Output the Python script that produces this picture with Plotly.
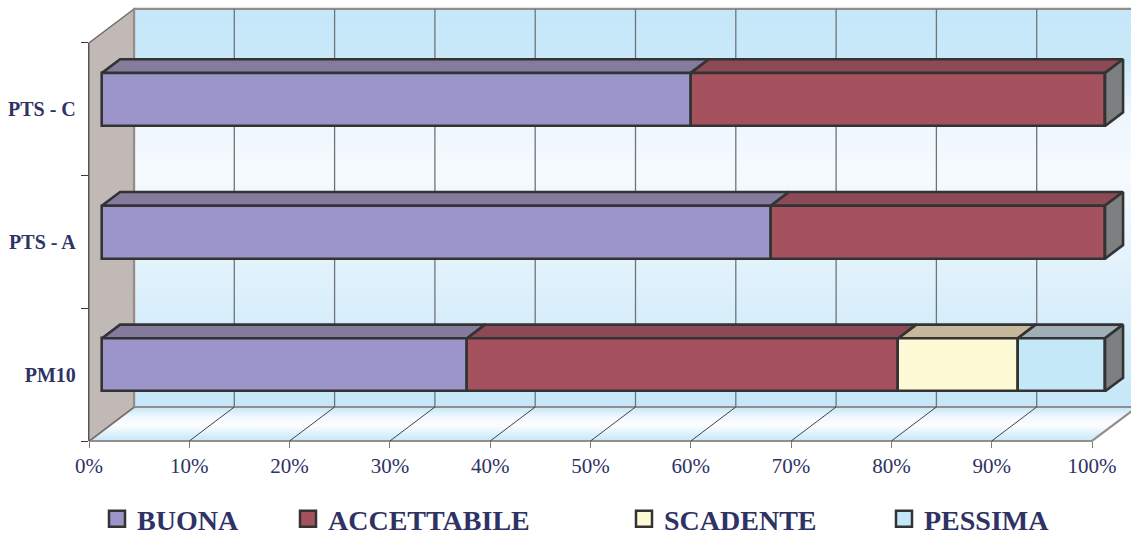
import plotly.graph_objects as go

# ---- data -------------------------------------------------------------
categories = ["PM10", "PTS - A", "PTS - C"]
series_names = ["BUONA", "ACCETTABILE", "SCADENTE", "PESSIMA"]
buona = [36.4, 66.7, 58.7]
accettabile = [43.0, 33.3, 41.3]
scadente = [11.9, 0.0, 0.0]
pessima = [8.7, 0.0, 0.0]
pct_ticks = list(range(0, 101, 10))
pct_labels = [f"{t}%" for t in pct_ticks]

series = [buona, accettabile, scadente, pessima]

# ---- styling ------------------------------------------------------------
front_colors = ["#9B95C9", "#A5525E", "#FFFAD6", "#C5E8F9"]
top_colors = ["#857B9D", "#8B4A55", "#C6B89D", "#A0AFB3"]
side_color = "#7D8080"
edge = "#333333"
navy = "#2E3264"
wall_edge = "#978C8A"
serif = "Liberation Serif"

# ---- pseudo-3D geometry (pixels -> data units) -------------------------
W, H = 1131, 537
X0 = 89.0      # pixel column of 0 %
SX = 10.03     # pixels per percent
Y0 = 441.0     # pixel row of the front floor edge
SY = 132.7     # pixels per category band
DX = 45 / SX   # depth offset along x
DY = 34 / SY   # depth offset along y
F0, F1 = 0.29, 0.69   # bar front / back depth fractions
HALF = 0.2            # half bar thickness (category units)


def px_to_x(p):
    return (p - X0) / SX


def px_to_y(p):
    return -0.5 + (Y0 - p) / SY


n_cat = len(categories)
y_lo, y_hi = -0.5, n_cat - 0.5
x_full = [px_to_x(0), px_to_x(W)]
y_full = [px_to_y(H), px_to_y(0)]

fig = go.Figure()

# tick subplot carrier (keeps the tick axes rendered)
fig.add_trace(go.Scatter(x=[None], y=[None], xaxis="x", yaxis="y",
                         showlegend=False, hoverinfo="skip"))

wall_scale = [[0.0, "#C5E7F9"], [0.3, "#DDF0FB"], [0.58, "#F5FAFE"],
              [0.74, "#EEF7FD"], [0.87, "#C9E9F9"], [1.0, "#C5E7F9"]]
floor_scale = [[0.0, "#C5E7F9"], [0.45, "#FAFDFF"], [0.7, "#F2F9FE"],
               [1.0, "#C2E5F8"]]

# back wall
bx = [DX, 100 + DX, 100 + DX, DX, DX]
by = [y_lo + DY, y_lo + DY, y_hi + DY, y_hi + DY, y_lo + DY]
fig.add_trace(go.Scatter(x=bx, y=by, fill="toself", mode="lines",
                         fillgradient=dict(type="vertical", colorscale=wall_scale),
                         line=dict(color=wall_edge, width=2.2),
                         xaxis="x2", yaxis="y2", showlegend=False, hoverinfo="skip"))

# floor
fx = [0, 100, 100 + DX, DX, 0]
fy = [y_lo, y_lo, y_lo + DY, y_lo + DY, y_lo]
fig.add_trace(go.Scatter(x=fx, y=fy, fill="toself", mode="lines",
                         fillgradient=dict(type="vertical", colorscale=floor_scale),
                         line=dict(color=wall_edge, width=2.2),
                         xaxis="x2", yaxis="y2", showlegend=False, hoverinfo="skip"))

# left side wall
lx = [0, DX, DX, 0, 0]
ly = [y_lo, y_lo + DY, y_hi + DY, y_hi, y_lo]
fig.add_trace(go.Scatter(x=lx, y=ly, fill="toself", mode="lines",
                         fillcolor="#C1B9B6", line=dict(color="#6E6664", width=1.2),
                         xaxis="x2", yaxis="y2", showlegend=False, hoverinfo="skip"))
fig.add_trace(go.Scatter(x=[DX, DX], y=[y_lo + DY, y_hi + DY], mode="lines",
                         line=dict(color=wall_edge, width=2.2),
                         xaxis="x2", yaxis="y2", showlegend=False, hoverinfo="skip"))

# gridlines on back wall and floor
gx, gy, dxs, dys = [], [], [], []
for t in pct_ticks[1:-1]:
    gx += [t + DX, t + DX, None]
    gy += [y_lo + DY, y_hi + DY, None]
    dxs += [t, t + DX, None]
    dys += [y_lo, y_lo + DY, None]
fig.add_trace(go.Scatter(x=gx, y=gy, mode="lines", line=dict(color="#6F7478", width=1.3),
                         xaxis="x2", yaxis="y2", showlegend=False, hoverinfo="skip"))
fig.add_trace(go.Scatter(x=dxs, y=dys, mode="lines", line=dict(color="#2F2F2F", width=0.9),
                         xaxis="x2", yaxis="y2", showlegend=False, hoverinfo="skip"))

# ---- bars: front faces -------------------------------------------------
cum = [0.0] * n_cat
starts = []
for vals in series:
    starts.append(list(cum))
    cum = [c + v for c, v in zip(cum, vals)]

for name, vals, st, fc in zip(series_names, series, starts, front_colors):
    ys = [i + F0 * DY for i, v in enumerate(vals) if v > 0]
    xs = [v for v in vals if v > 0]
    bases = [s + F0 * DX for s, v in zip(st, vals) if v > 0]
    fig.add_trace(go.Bar(orientation="h", y=ys, x=xs, base=bases, width=2 * HALF,
                         marker=dict(color=fc, line=dict(color=edge, width=2.6)),
                         name=name, showlegend=False, xaxis="x3", yaxis="y3",
                         hovertemplate=name + ": %{x:.1f}%<extra></extra>"))

# ---- bars: top faces ----------------------------------------------------
for vals, st, tc in zip(series, starts, top_colors):
    for i, (v, s) in enumerate(zip(vals, st)):
        if v <= 0:
            continue
        yt = i + HALF
        px_ = [s + F0 * DX, s + v + F0 * DX, s + v + F1 * DX, s + F1 * DX, s + F0 * DX]
        py_ = [yt + F0 * DY, yt + F0 * DY, yt + F1 * DY, yt + F1 * DY, yt + F0 * DY]
        fig.add_trace(go.Scatter(x=px_, y=py_, fill="toself", mode="lines",
                                 fillcolor=tc, line=dict(color=edge, width=2.6),
                                 xaxis="x3", yaxis="y3", showlegend=False, hoverinfo="skip"))

# ---- bars: right end faces -----------------------------------------------
for i, tot in enumerate(cum):
    sx_ = [tot + F0 * DX, tot + F1 * DX, tot + F1 * DX, tot + F0 * DX, tot + F0 * DX]
    sy_ = [i - HALF + F0 * DY, i - HALF + F1 * DY, i + HALF + F1 * DY,
           i + HALF + F0 * DY, i - HALF + F0 * DY]
    fig.add_trace(go.Scatter(x=sx_, y=sy_, fill="toself", mode="lines",
                             fillcolor=side_color, line=dict(color=edge, width=2.6),
                             xaxis="x3", yaxis="y3", showlegend=False, hoverinfo="skip"))

# ---- legend swatches (one legend box per entry) --------------------------
legend_x = [97, 288, 624, 884]
legend_keys = ["legend", "legend2", "legend3", "legend4"]
for name, fc, key in zip(series_names, front_colors, legend_keys):
    fig.add_trace(go.Scatter(x=[None], y=[None], mode="markers", name=name,
                             marker=dict(symbol="square", size=16, color=fc,
                                         line=dict(color=edge, width=2.5)),
                             legend=key, xaxis="x3", yaxis="y3", hoverinfo="skip"))

legend_style = dict(y=1 - 519 / H, xanchor="left", yanchor="middle",
                    orientation="h", bgcolor="rgba(0,0,0,0)",
                    font=dict(family=serif, size=28, color=navy, weight="bold"))
layout_legends = {key: dict(x=lx_ / W, **legend_style) for key, lx_ in zip(legend_keys, legend_x)}

hidden = dict(visible=False, showgrid=False, zeroline=False, fixedrange=True)

fig.update_layout(
    width=W, height=H, autosize=False,
    margin=dict(l=0, r=0, t=0, b=0, pad=0, autoexpand=False),
    paper_bgcolor="white", plot_bgcolor="rgba(0,0,0,0)",
    barmode="overlay", bargap=0,
    xaxis=dict(domain=[X0 / W, 1], range=[0, px_to_x(W)], anchor="y",
               tickmode="array", tickvals=pct_ticks, ticktext=pct_labels,
               ticks="outside", ticklen=6, tickwidth=1.3, tickcolor="#7A7A7A",
               showline=False, showgrid=False, zeroline=False,
               tickfont=dict(family=serif, size=21, color=navy), fixedrange=True),
    yaxis=dict(domain=[(H - Y0) / H, (H - (Y0 - n_cat * SY)) / H],
               range=[y_lo, y_hi], anchor="x",
               tickmode="array", tickvals=list(range(n_cat)), ticktext=categories,
               ticks="outside", ticklen=8, tickcolor="rgba(0,0,0,0)",
               minor=dict(tickmode="array", tickvals=[k - 0.5 for k in range(n_cat + 1)],
                          ticks="outside", ticklen=7, tickwidth=1.3, tickcolor="#3A3A3A"),
               showline=True, linecolor="#3A3A3A", linewidth=1.4,
               showgrid=False, zeroline=False,
               tickfont=dict(family=serif, size=20, color=navy, weight="bold"),
               fixedrange=True),
    xaxis2=dict(domain=[0, 1], range=x_full, anchor="y2", **hidden),
    yaxis2=dict(domain=[0, 1], range=y_full, anchor="x2", **hidden),
    xaxis3=dict(range=x_full, overlaying="x2", anchor="y3", **hidden),
    yaxis3=dict(range=y_full, overlaying="y2", anchor="x3", **hidden),
    **layout_legends,
)

fig.write_html("out.html")
